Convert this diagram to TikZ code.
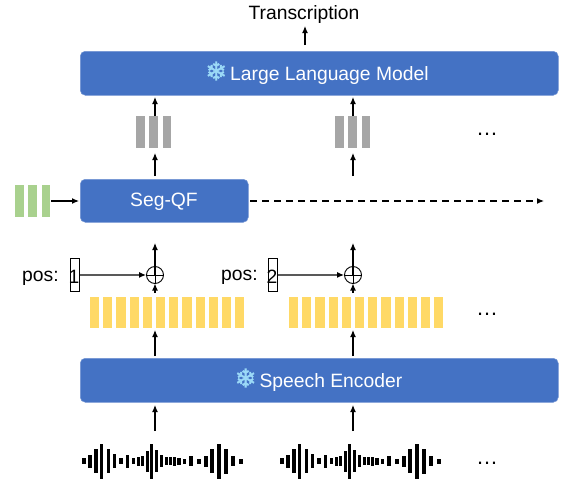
\documentclass[tikz,border=0pt]{standalone}
\usepackage{fontspec}
\setmainfont{Liberation Sans}
\newfontfamily\flakefont[FakeBold=1.5]{DejaVu Sans}
\usetikzlibrary{arrows.meta}
\definecolor{boxblue}{HTML}{4472C4}
\definecolor{barGreen}{HTML}{A9D18E}
\definecolor{barYellow}{HTML}{FFD966}
\definecolor{barGray}{HTML}{A6A6A6}
\definecolor{flake}{HTML}{9BD9F7}
\newcommand{\txtsize}{\fontsize{19.3}{21}\selectfont}
\tikzset{
  blockbox/.style={draw=boxblue!75!white,line width=.5pt,fill=boxblue,rounded corners=5pt,text=white,minimum height=44pt,inner sep=0pt,font=\txtsize},
  conn/.style={-{Latex[length=7pt,width=6pt]},line width=1.2pt,black},
  lbl/.style={inner sep=0pt,font=\txtsize,text=black},
  posbox/.style={draw=black,line width=.9pt,minimum width=9pt,minimum height=33pt,inner sep=0pt},
  sumnode/.style={circle,draw=black,line width=.9pt,minimum size=17pt,inner sep=0pt,
    path picture={\draw[line width=.9pt] (path picture bounding box.north)--(path picture bounding box.south)
      (path picture bounding box.west)--(path picture bounding box.east);}},
  dotsnode/.style={inner sep=0pt,font=\fontsize{22}{22}\selectfont,text=black}
}
\newcommand{\flk}{{\flakefont\fontsize{26}{26}\selectfont\textcolor{flake}{❄}}}
\newcommand{\wave}[1]{%
  \foreach \dx/\wd/\ht in {0/3.8/6,6/3.8/13,12.3/3.8/24,18/3.4/35,24.5/3.8/24,30.5/3.8/14,37/3.8/6,43.5/3.8/13,50/3.4/6,55/3/9,59/3/10,63.5/3.2/21,68/3/35,73/3/22,77.5/3.2/12,83/3/8,87/3/8,91/3/9,95/3.6/7,101/3.4/5,107/4.4/10,115/3.8/5,122/4.2/11,128/4.4/24,135/3.6/35,142/4.4/25,149/3.8/10,157/3.8/5}%
  {\fill[black] ({#1+\dx},{461-\ht/2}) rectangle ++(\wd,\ht);}}
\begin{document}
\begin{tikzpicture}[x=1pt,y=-1pt]
\useasboundingbox (0,0) rectangle (563,479);
% blocks
\node[blockbox,minimum width=478pt,anchor=north west] (llm) at (80,51) {\phantom{x}};
\node[blockbox,minimum width=478pt,anchor=north west] (enc) at (80,358) {\phantom{x}};
\node[blockbox,minimum width=168pt,minimum height=43pt,anchor=north west] (seg) at (80,179) {};
\node[inner sep=0pt,text=white,font=\txtsize] (segt) at (164,201.5) {Seg-QF};
\node[inner sep=0pt,text=white,font=\txtsize] (llmt) at (317,73) {\flk\hspace{3pt}Large Language Model};
\node[inner sep=0pt,text=white,font=\txtsize] (enct) at (318.5,380) {\flk\hspace{3pt}Speech Encoder};
% bars
\foreach \x in {15,28.3,41.6}{\fill[barGreen] (\x,185) rectangle ++(8.7,32);}
\foreach \s in {136,335}{\foreach \k in {0,1,2}{\fill[barGray] ({\s+13.4*\k},116) rectangle ++(8.5,32);}}
\foreach \s in {90,289}{\foreach \k in {0,...,11}{\fill[barYellow] ({\s+13.2*\k},297) rectangle ++(9.2,31);}}
\wave{82}
\wave{280}
% texts
\node[lbl] (tr) at (304,15) {Transcription};
\node[lbl,anchor=west] (p1) at (22,278) {pos:};
\node[lbl,anchor=west] (p2) at (221,277) {pos:};
\node[posbox,anchor=north west] (b1) at (70,258) {};
\node[posbox,anchor=north west] (b2) at (268,258) {};
\node[lbl] (n1) at (74,277) {1};
\node[lbl] (n2) at (272,277) {2};
\node[sumnode] (s1) at (155,275) {};
\node[sumnode] (s2) at (353,275) {};
\node[dotsnode] (d1) at (487,134) {…};
\node[dotsnode] (d2) at (487,314) {…};
\node[dotsnode] (d3) at (487,463) {…};
% free ends
\coordinate (trA) at (305,45); \coordinate (trB) at (305,26);
\foreach \n/\x in {a/155,b/353}{
  \coordinate (gt\n) at (\x,116); \coordinate (lb\n) at (\x,97);
  \coordinate (sg\n) at (\x,176); \coordinate (gb\n) at (\x,153);
  \coordinate (up\n) at (\x,243);
  \coordinate (yt\n) at (\x,293);
  \coordinate (yb\n) at (\x,330); \coordinate (et\n) at (\x,356);
  \coordinate (eb\n) at (\x,405); \coordinate (wt\n) at (\x,431);
}
\coordinate (gr) at (51,201); \coordinate (sl) at (79,201);
\coordinate (dashA) at (250,201); \coordinate (dashB) at (544,201);
% connectors
\draw[conn] (trA) -- (trB);
\foreach \n in {a,b}{
  \draw[conn] (gt\n) -- (lb\n);
  \draw[conn] (sg\n) -- (gb\n);
  \draw[conn] (yt\n) -- (yt\n |- 0,283.5);
  \draw[conn] (et\n) -- (yb\n);
  \draw[conn] (wt\n) -- (eb\n);
}
\draw[conn] (s1.center) -- (upa);
\draw[conn] (s2.center) -- (upb);
\draw[conn] (gr) -- (sl);
\draw[conn] (b1.east) -- (s1.west);
\draw[conn] (b2.east) -- (s2.west);
\draw[conn,dashed,dash pattern=on 7pt off 5pt] (dashA) -- (dashB);
\end{tikzpicture}
\end{document}
